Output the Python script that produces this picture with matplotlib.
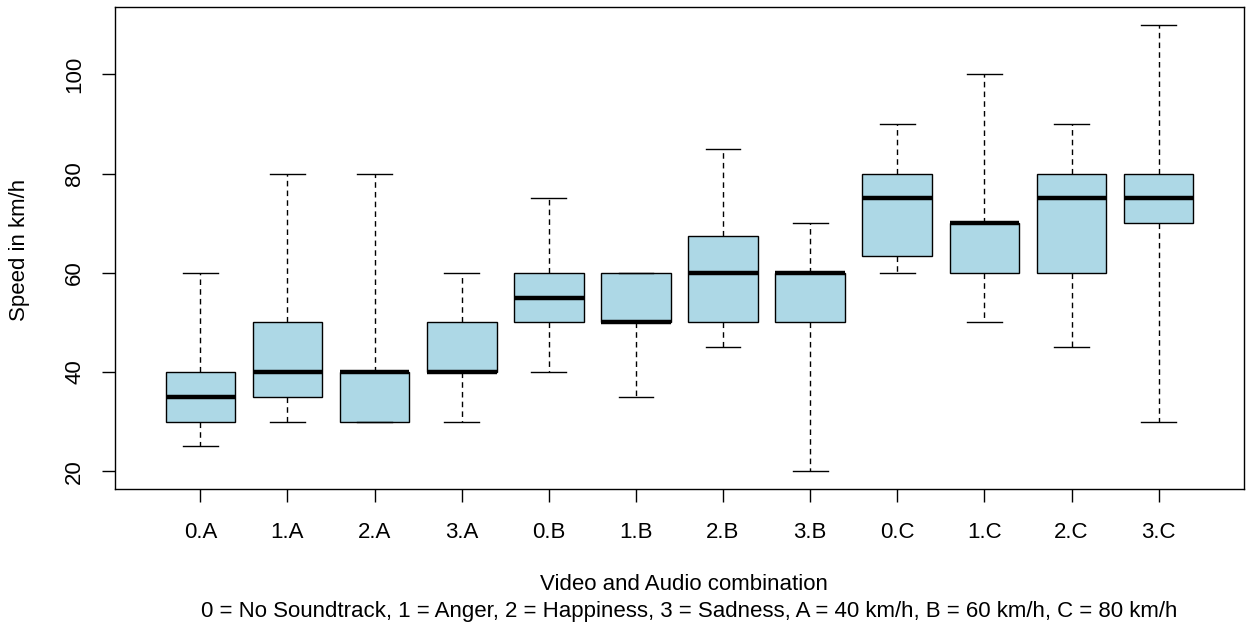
import matplotlib
matplotlib.use("Agg")
import matplotlib.pyplot as plt

plt.rcParams['font.family'] = ['Liberation Sans', 'DejaVu Sans']

labels = ['0.A', '1.A', '2.A', '3.A', '0.B', '1.B', '2.B', '3.B', '0.C', '1.C', '2.C', '3.C']
whislo = [25, 30, 30, 30, 40, 35, 45, 20, 60, 50, 45, 30]
q1 = [30, 35, 30, 40, 50, 50, 50, 50, 63.3, 60, 60, 70]
med = [35, 40, 40, 40, 55, 50, 60, 60, 75, 70, 75, 75]
q3 = [40, 50, 40, 50, 60, 60, 67.5, 60, 80, 70, 80, 80]
whishi = [60, 80, 80, 60, 75, 60, 85, 70, 90, 100, 90, 110]

stats = []
for i in range(len(labels)):
    stats.append(dict(label=labels[i], whislo=whislo[i], q1=q1[i], med=med[i],
                      q3=q3[i], whishi=whishi[i], fliers=[]))

fs = 16

fig = plt.figure(figsize=(12.46, 6.32), dpi=100)
ax = fig.add_axes([115/1246, 143/632, 1129/1246, 482/632])

ax.bxp(stats, positions=range(1, 13), widths=0.8, capwidths=0.4,
       patch_artist=True, showfliers=False,
       boxprops=dict(facecolor='#ADD8E6', edgecolor='black', linewidth=1),
       medianprops=dict(color='black', linewidth=3.2, solid_capstyle='butt'),
       whiskerprops=dict(color='black', linewidth=1, linestyle=(0, (4, 3))),
       capprops=dict(color='black', linewidth=1))

ax.set_xlim(0.02, 12.98)
ax.set_ylim(16.4, 113.6)
ax.set_yticks([20, 40, 60, 80, 100])
ax.set_yticklabels(['20', '40', '60', '80', '100'], rotation=90, va='center')
ax.set_xticks(range(1, 13))
ax.set_xticklabels(labels)
ax.tick_params(direction='out', length=9.5, width=1, labelsize=fs)
ax.tick_params(axis='x', pad=14)
ax.tick_params(axis='y', pad=12)
for s in ax.spines.values():
    s.set_linewidth(1)

fig.text(20/1246, 1 - 250/632, 'Speed in km/h', rotation=90, ha='center', va='center', fontsize=fs)
fig.text(684/1246, 1 - 585/632, 'Video and Audio combination', ha='center', va='center', fontsize=fs)
fig.text(689/1246, 1 - 612/632,
         '0 = No Soundtrack, 1 = Anger, 2 = Happiness, 3 = Sadness, A = 40 km/h, B = 60 km/h, C = 80 km/h',
         ha='center', va='center', fontsize=fs)

fig.savefig('out.png', dpi=100)
